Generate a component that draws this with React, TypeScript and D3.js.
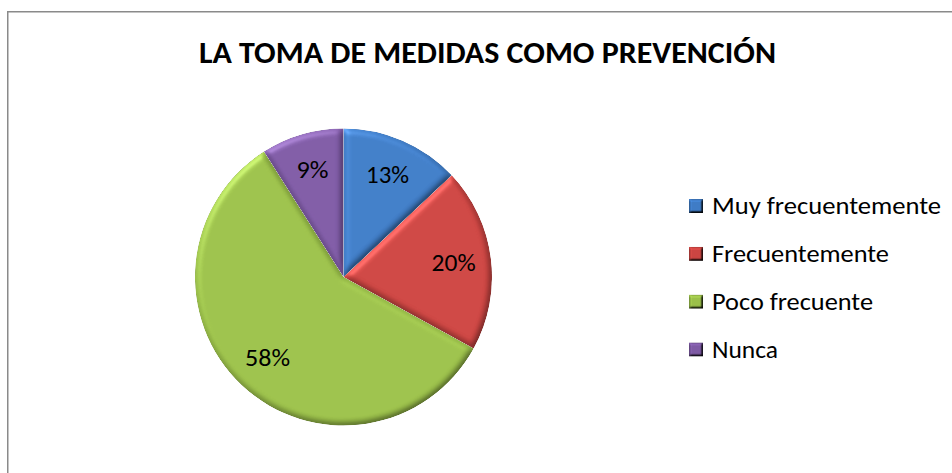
import React from "react";
import * as d3 from "d3";

const title = "LA TOMA DE MEDIDAS COMO PREVENCIÓN";
const categories = ["Muy frecuentemente", "Frecuentemente", "Poco frecuente", "Nunca"];
const values = [13, 20, 58, 9];
const labels = ["13%", "20%", "58%", "9%"];
const colors = ["#3F7CC6", "#CC4542", "#9BC04A", "#7E5AA4"];
const legendWidths = [229, 177, 161, 66];
const labelWidths = [43, 44, 45, 32];

const W = 952;
const H = 473;
const cx = 343.5;
const cy = 277;
const R = 148.5;

export default function App() {
  const pie = d3.pie<number>().sort(null).value((d) => d)(values);
  const arc = d3.arc<d3.PieArcDatum<number>>().innerRadius(0).outerRadius(R);
  const labelArc = d3.arc<d3.PieArcDatum<number>>().innerRadius(111).outerRadius(111);
  const font = "Calibri, Carlito, 'Open Sans', sans-serif";
  const legendY = d3.scaleLinear().domain([0, 3]).range([214, 357.5]);

  return (
    <svg width={W} height={H} style={{ position: "absolute", left: 0, top: 0, background: "#fff" }}>
      <defs>
        <filter id="bevel" x="-10%" y="-10%" width="120%" height="120%" colorInterpolationFilters="sRGB">
          <feGaussianBlur in="SourceAlpha" stdDeviation="3" result="blur" />
          <feDiffuseLighting in="blur" surfaceScale="2.5" diffuseConstant="1" lightingColor="#ffffff" result="diff">
            <feDistantLight azimuth="235" elevation="65" />
          </feDiffuseLighting>
          <feComposite in="SourceGraphic" in2="diff" operator="arithmetic" k1="1.1" k2="0" k3="0" k4="0" result="lit" />
          <feSpecularLighting in="blur" surfaceScale="3" specularConstant="0.3" specularExponent="20" lightingColor="#ffffff" result="spec">
            <feDistantLight azimuth="235" elevation="40" />
          </feSpecularLighting>
          <feComposite in="spec" in2="SourceAlpha" operator="in" result="specIn" />
          <feComposite in="lit" in2="specIn" operator="arithmetic" k1="0" k2="1" k3="0.45" k4="0" result="sum" />
          <feComposite in="sum" in2="SourceAlpha" operator="in" />
        </filter>
        <filter id="bevelSmall" x="-20%" y="-20%" width="140%" height="140%" colorInterpolationFilters="sRGB">
          <feGaussianBlur in="SourceAlpha" stdDeviation="1.2" result="blur" />
          <feDiffuseLighting in="blur" surfaceScale="3" diffuseConstant="1" lightingColor="#ffffff" result="diff">
            <feDistantLight azimuth="235" elevation="60" />
          </feDiffuseLighting>
          <feComposite in="SourceGraphic" in2="diff" operator="arithmetic" k1="1.155" k2="0" k3="0" k4="0" result="lit" />
          <feComposite in="lit" in2="SourceAlpha" operator="in" />
        </filter>
      </defs>
      <rect x={0} y={0} width={W} height={H} fill="#fff" />
      <path d={`M7.75,${H + 5} L7.75,11.75 L${W + 5},11.75`} fill="none" stroke="#8a8a8a" strokeWidth={1.5} />
      <text
        x={487.5}
        y={63}
        textAnchor="middle"
        fontFamily={font}
        fontWeight="bold"
        fontSize={31}
        textLength={577}
        lengthAdjust="spacingAndGlyphs"
        fill="#000"
      >
        {title}
      </text>
      <g transform={`translate(${cx},${cy})`}>
        {pie.map((d, i) => (
          <path key={i} d={arc(d) || ""} fill={colors[i]} filter="url(#bevel)" />
        ))}
        {pie.map((d, i) => {
          const [x, y] = labelArc.centroid(d);
          return (
            <text
              key={i}
              x={x}
              y={y + 8}
              textAnchor="middle"
              fontFamily={font}
              fontSize={24}
              textLength={labelWidths[i]}
              lengthAdjust="spacingAndGlyphs"
              fill="#000"
            >
              {labels[i]}
            </text>
          );
        })}
      </g>
      <g>
        {categories.map((c, i) => (
          <g key={c}>
            <rect x={689} y={legendY(i) - 15} width={14} height={14} fill={colors[i]} filter="url(#bevelSmall)" />
            <text
              x={712}
              y={legendY(i)}
              fontFamily={font}
              fontSize={24}
              textLength={legendWidths[i]}
              lengthAdjust="spacingAndGlyphs"
              fill="#000"
            >
              {c}
            </text>
          </g>
        ))}
      </g>
    </svg>
  );
}
